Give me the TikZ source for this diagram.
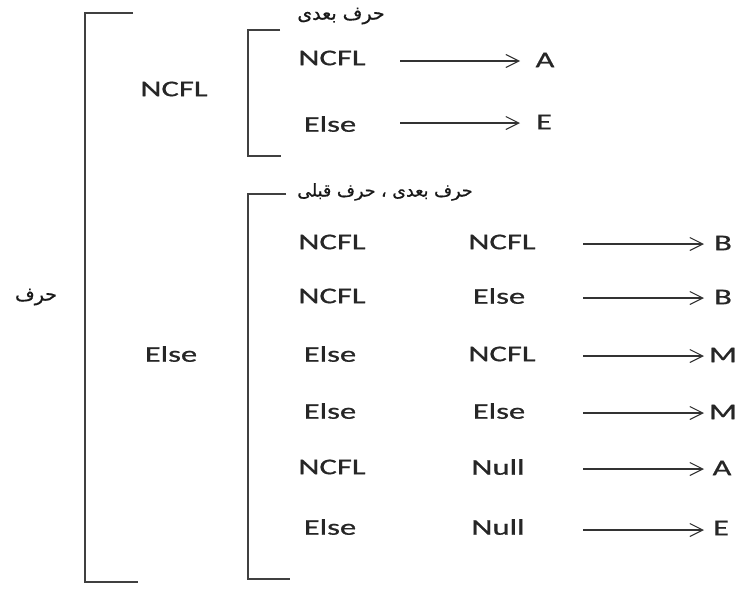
\documentclass[tikz,border=0pt]{standalone}
\usepackage{fontspec}
\setmainfont[FakeStretch=1.45,FakeBold=0.8]{Carlito}
\newfontfamily\arabicfont[Script=Arabic,FakeBold=0.6]{DejaVu Sans}
\TeXXeTstate=1
\usetikzlibrary{arrows.meta}
\begin{document}
\begin{tikzpicture}[x=1pt,y=-1pt,
  lbl/.style={inner sep=0pt,text=black!85,font=\fontsize{22.5}{26}\selectfont},
  artxt/.style={inner sep=0pt,text=black!90,font=\arabicfont\fontsize{19}{23}\selectfont},
  brk/.style={line width=1.6pt,draw=black!75},
  arr/.style={line width=1.1pt,draw=black!80,-{Straight Barb[length=13pt,width=13pt,line width=1.1pt]}}]
\useasboundingbox (0,0) rectangle (747,592);
% brackets
\draw[brk] (133,13) -- (85,13) -- (85,582) -- (138,582);
\draw[brk] (280,30) -- (248,30) -- (248,156) -- (281,156);
\draw[brk] (286,194) -- (248,194) -- (248,579) -- (290,579);
% left labels
\node[artxt] (root) at (36,297) {\beginR حرف\endR};
\node[lbl] (ncflL) at (174,89) {NCFL};
\node[lbl] (elseL) at (171,354) {Else};
% NCFL group
\node[artxt] (hdr1) at (341,16) {\beginR حرف بعدی\endR};
\node[lbl] (r1a) at (332,58) {NCFL};
\node[lbl] (r2a) at (330,124) {Else};
\node[lbl] (oA1) at (545,60) {A};
\node[lbl] (oE1) at (544,122) {E};
\coordinate (s1) at (400,61);
\coordinate (s2) at (400,123);
\draw[arr] (s1) -- (s1 -| 520,0);
\draw[arr] (s2) -- (s2 -| 520,0);
% Else group
\node[artxt,font=\arabicfont\fontsize{17.5}{21}\selectfont] (hdr2) at (385,192) {\beginR حرف بعدی ، حرف قبلی\endR};
\node[lbl] (c1r1) at (332,242) {NCFL};
\node[lbl] (c2r1) at (502,242) {NCFL};
\node[lbl] (c1r2) at (332,296) {NCFL};
\node[lbl] (c2r2) at (499,296) {Else};
\node[lbl] (c1r3) at (330,354) {Else};
\node[lbl] (c2r3) at (502,354) {NCFL};
\node[lbl] (c1r4) at (330,411) {Else};
\node[lbl] (c2r4) at (499,411) {Else};
\node[lbl] (c1r5) at (332,467) {NCFL};
\node[lbl] (c2r5) at (498,467) {Null};
\node[lbl] (c1r6) at (330,527) {Else};
\node[lbl] (c2r6) at (498,527) {Null};
\node[lbl] (o1) at (723,243) {B};
\node[lbl] (o2) at (723,297) {B};
\node[lbl] (o3) at (723,355) {M};
\node[lbl] (o4) at (723,412) {M};
\node[lbl] (o5) at (722,468) {A};
\node[lbl] (o6) at (721,528) {E};
\foreach \i/\yy in {1/244,2/298,3/356,4/413,5/469,6/530}{
  \coordinate (t\i) at (583,\yy);
  \draw[arr] (t\i) -- (704,\yy);
}
\end{tikzpicture}
\end{document}
